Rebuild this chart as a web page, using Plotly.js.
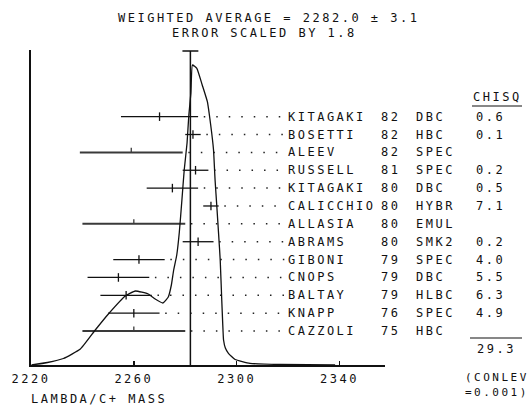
<!DOCTYPE html>
<html>
<head>
<meta charset="utf-8">
<script src="https://cdn.plot.ly/plotly-3.0.1.min.js"></script>
<style>
  html, body { margin: 0; padding: 0; background: #fff; }
  #chart { width: 528px; height: 406px; }
  svg text { letter-spacing: 2.5px; }
</style>
</head>
<body>
<div id="chart"></div>
<script>
// Lambda_c+ mass measurements (MeV)
const names      = ['KITAGAKI','BOSETTI','ALEEV','RUSSELL','KITAGAKI','CALICCHIO','ALLASIA','ABRAMS','GIBONI','CNOPS','BALTAY','KNAPP','CAZZOLI'];
const years      = ['82','82','82','81','80','80','80','80','79','79','79','76','75'];
const techniques = ['DBC','HBC','SPEC','SPEC','DBC','HYBR','EMUL','SMK2','SPEC','DBC','HLBC','SPEC','HBC'];
const masses     = [2270, 2283, 2259, 2284, 2275, 2290, 2260, 2285, 2262, 2254, 2257, 2260, 2260];
const errors     = [15, 3, 20, 5, 10, 3, 20, 6, 10, 12, 10, 10, 20];
// chi-square contributions (null = not used in the average)
const chisq      = [0.6, 0.1, null, 0.2, 0.5, 7.1, null, 0.2, 4.0, 5.5, 6.3, 4.9, null];
const chisqTotal = 29.3;
const conlev     = 0.001;

const average      = 2282.0;
const averageError = 3.1;
const errorScale   = 1.8;

// ideogram: mass vs. relative height
const ideoMass   = [2220.2, 2226.4, 2232.6, 2239.2, 2245.0, 2250.1, 2256.7, 2260.6, 2265.6, 2268.3,
                    2271.3, 2273.4, 2274.6, 2275.5, 2276.7, 2277.7, 2278.7, 2279.6, 2280.7, 2281.4,
                    2282.2, 2282.8, 2284.5, 2286.6, 2288.6, 2289.9, 2291.0, 2291.6, 2292.3, 2293.0,
                    2293.6, 2294.2, 2294.6, 2294.9, 2295.6, 2296.8, 2299.4, 2305.2, 2316.9, 2338.3];
const ideoHeight = [0, 2.5, 6.5, 16, 35, 51, 69, 74, 71, 66,
                    62, 68, 80, 95, 110, 133, 165, 195, 222, 250,
                    272, 300, 296.7, 280, 263.3, 240, 215, 185, 158, 130,
                    105, 65, 40, 25, 17, 11.7, 5.5, 1.7, 0.5, 0];

const xTicks = [2220, 2260, 2300, 2340];

// ---- geometry helpers (pixel -> paper) ----
const W = 528, H = 406, M = {l: 31, r: 143, t: 50, b: 41};
const PW = W - M.l - M.r, PH = H - M.t - M.b;
const px = x => (x - M.l) / PW;
const py = y => (H - M.b - y) / PH;

const FONT = {family: 'DejaVu Sans Mono, monospace', size: 12, color: '#111'};
const FONT_SMALL = {family: 'DejaVu Sans Mono, monospace', size: 11, color: '#111'};
const rows = names.map((_, i) => i);
const used = rows.filter(i => chisq[i] !== null);
const unused = rows.filter(i => chisq[i] === null);

// measurement bars
const usedTrace = {
  x: used.map(i => masses[i]), y: used,
  mode: 'markers', marker: {size: 1, color: 'rgba(0,0,0,0)'},
  error_x: {type: 'data', array: used.map(i => errors[i]), visible: true, width: 0, thickness: 1.3, color: '#111'},
  error_y: {type: 'constant', value: 0.24, visible: true, width: 0, thickness: 1.3, color: '#111'},
  hoverinfo: 'skip', showlegend: false
};
const unusedTrace = {
  x: unused.map(i => masses[i]), y: unused,
  mode: 'markers', marker: {size: 1, color: 'rgba(0,0,0,0)'},
  error_x: {type: 'data', array: unused.map(i => errors[i]), visible: true, width: 0, thickness: 2, color: '#3a3a3a'},
  error_y: {type: 'constant', symmetric: false, value: 0, valueminus: 0.26, visible: true, width: 0, thickness: 1.3, color: '#3a3a3a'},
  hoverinfo: 'skip', showlegend: false
};

// dotted leaders from each bar to its label
const leaderEnd = 2319.0, leaderGap = 2.2;
const lx = [], ly = [];
rows.forEach(i => { lx.push(masses[i] + errors[i] + leaderGap, leaderEnd, null); ly.push(i, i, null); });
const leaders = {
  x: lx, y: ly, mode: 'lines', connectgaps: false,
  line: {color: '#222', width: 1.5, dash: '1.5px,11px'},
  hoverinfo: 'skip', showlegend: false
};

const ideogram = {
  x: ideoMass, y: ideoHeight, xaxis: 'x', yaxis: 'y2',
  mode: 'lines', line: {color: '#111', width: 1.3, shape: 'spline', smoothing: 0.4},
  hoverinfo: 'skip', showlegend: false
};

const ann = [];
const txt = (text, xPix, yPix, xanchor, font) => ann.push({
  text, x: px(xPix), y: py(yPix), xref: 'paper', yref: 'paper',
  xanchor: xanchor || 'left', yanchor: 'middle', showarrow: false, font: font || FONT, borderpad: 0
});
rows.forEach(i => {
  const common = {y: i, yref: 'y', xref: 'paper', xanchor: 'left', yanchor: 'middle', showarrow: false, font: FONT, borderpad: 0};
  ann.push(Object.assign({text: names[i], x: px(287)}, common));
  ann.push(Object.assign({text: years[i], x: px(380)}, common));
  ann.push(Object.assign({text: techniques[i], x: px(415)}, common));
  if (chisq[i] !== null) ann.push(Object.assign({text: chisq[i].toFixed(1), x: px(475)}, common));
});
txt('WEIGHTED AVERAGE = ' + average.toFixed(1) + ' \u00b1 ' + averageError.toFixed(1), 268, 18, 'center');
txt('ERROR SCALED BY ' + errorScale.toFixed(1), 264, 33, 'center');
txt('CHISQ', 498, 97, 'center');
txt(chisqTotal.toFixed(1), 476, 349);
txt('(CONLEV', 464, 377, 'left', FONT_SMALL);
txt('=' + conlev.toFixed(3) + ')', 464, 393, 'left', FONT_SMALL);
txt('LAMBDA/C+ MASS', 30, 399);

const shapes = [
  {type: 'line', xref: 'x', yref: 'paper', x0: average, x1: average, y0: 0, y1: py(51), line: {color: '#111', width: 1.5}},
  {type: 'line', xref: 'x', yref: 'paper', x0: average - averageError, x1: average + averageError, y0: py(51), y1: py(51), line: {color: '#111', width: 1.5}},
  {type: 'line', xref: 'paper', yref: 'paper', x0: px(472), x1: px(522), y0: py(106), y1: py(106), line: {color: '#111', width: 1.2}},
  {type: 'line', xref: 'paper', yref: 'paper', x0: px(470), x1: px(522), y0: py(338), y1: py(338), line: {color: '#111', width: 1.2}}
];

const layout = {
  width: W, height: H, margin: M,
  paper_bgcolor: '#fff', plot_bgcolor: '#fff',
  font: FONT,
  xaxis: {
    range: [2220, 2357.7], tickvals: xTicks, ticktext: xTicks.map(String),
    ticks: 'inside', ticklen: 4, tickwidth: 1.5, tickcolor: '#111',
    showline: true, linewidth: 1.6, linecolor: '#111',
    showgrid: false, zeroline: false, tickfont: FONT, ticklabelstandoff: 2
  },
  yaxis: {
    range: [13.9, -3.73], showline: true, linewidth: 1.6, linecolor: '#111',
    showticklabels: false, ticks: '', showgrid: false, zeroline: false
  },
  yaxis2: {overlaying: 'y', range: [0, PH], visible: false},
  showlegend: false,
  annotations: ann,
  shapes: shapes
};

Plotly.newPlot('chart', [leaders, ideogram, unusedTrace, usedTrace], layout, {staticPlot: true, displayModeBar: false});
</script>
</body>
</html>
